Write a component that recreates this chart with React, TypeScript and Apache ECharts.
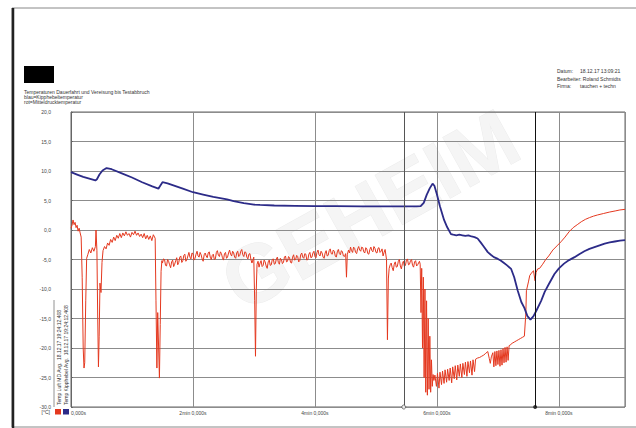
import React, { useEffect, useRef } from "react";
import * as echarts from "echarts";

// Blue: Kipphebeltemperatur [time s, °C]
const bluePoints: [number, number][] = [
  [0, 9.8], [6, 9.4], [12, 9.0], [18, 8.7], [24, 8.4], [25.5, 8.6], [28, 9.4], [31, 10.1], [35, 10.5],
  [40, 10.3], [50, 9.6], [60, 8.9], [70, 8.1], [80, 7.4], [86, 7.0], [87, 7.3], [90, 8.1], [95, 7.9],
  [100, 7.6], [110, 7.0], [120, 6.4], [130, 6.0], [140, 5.6], [153.5, 5.2], [160, 4.9], [170, 4.55],
  [180, 4.3], [186, 4.25], [200, 4.15], [220, 4.1], [240, 4.05], [260, 4.05], [285, 4.0], [300, 4.0],
  [320, 4.0], [340, 4.0], [344, 4.05], [347, 4.6], [350, 6.0], [353, 7.1], [355.7, 7.85], [357.5, 7.5],
  [360, 6.0], [363, 4.0], [367, 1.7], [370, 0.5], [373.8, -0.7], [376, -0.8], [379, -0.9], [382, -0.8],
  [385, -0.9], [388, -1.0], [391, -0.9], [394, -1.1], [397, -1.2], [400, -1.45], [403, -2.1], [406, -2.8],
  [410, -3.75], [413, -4.2], [416, -4.6], [420, -4.9], [423, -5.2], [426, -5.6], [429, -6.0], [433, -6.6],
  [436, -8.0], [439.5, -10.3], [443, -12.2], [446, -13.2], [449, -14.6], [452, -15.2], [455, -14.6],
  [458, -13.6], [462.5, -12.0], [466, -10.5], [470, -9.2], [475.6, -7.45], [480, -6.5], [485, -5.7],
  [490, -5.1], [495.4, -4.6], [500, -4.1], [505, -3.6], [510, -3.2], [515, -2.9], [520, -2.6],
  [525, -2.3], [530, -2.1], [535, -1.95], [540, -1.8], [545, -1.7],
];

// Red: Mitteldrucktemperatur [time s, °C]
const redStart: [number, number][] = [
  [0, 0.3], [1, 0.8], [2, 1.7], [3, 0.9], [4, 1.3], [5, 0.4], [6, 0.8], [7, -0.2], [8, 0.3], [9, -0.5],
  [10, -1.2], [11, -8], [12, -20], [12.8, -23.4], [13.5, -22.5], [14.5, -12], [15.4, -4.8], [16.5, -4.2],
  [18, -3.3], [19.5, -3.9], [21, -3.0], [22.5, -3.6], [24, -2.8], [24.6, 0.0], [25.5, -3.5], [26.3, -15],
  [27, -23.2], [27.7, -18], [28.5, -9], [29.5, -10.6], [30.5, -5.5], [31.5, -3.5], [33, -2.8], [34.5, -3.2],
  [36, -2.2], [37.5, -2.6], [39, -1.6], [40.5, -2.1], [42, -1.2], [43.5, -1.8], [45, -0.9], [46.5, -1.4],
  [48, -0.6], [49.5, -1.3], [51, -0.5], [52.5, -1.0], [54, -0.3], [55.5, -0.9], [57, -0.6], [58.5, -1.2],
  [60, -0.4], [61.5, -0.8], [63, -0.2], [64.5, -0.9], [66, -0.5], [67.5, -1.1], [69, -0.7], [70.5, -1.3],
  [72, -0.6], [73.5, -1.5], [75, -0.9], [76.5, -1.6], [78, -1.0], [79.5, -1.8], [81, -0.8], [82.8, -1.4],
  [83.6, -12], [84.5, -23.4], [85.3, -14], [86.2, -20], [87, -25.1], [87.8, -16], [88.6, -7], [89.4, -5.2],
];
const redMiddle: [number, number][] = [
  [90, -5.6], [91, -4.9], [92, -5.0], [93, -6.0], [94, -6.1], [95, -5.0], [96, -5.3], [97, -5.9], [98, -6.4],
  [99, -5.4], [100, -5.1], [101, -6.2], [102, -5.8], [103, -5.2], [104, -4.7], [105, -5.9], [106, -5.5],
  [107, -4.6], [108, -4.4], [109, -5.5], [110, -5.2], [111, -4.3], [112, -4.1], [113, -5.3], [114, -5.0],
  [115, -4.4], [116, -3.8], [117, -4.6], [118, -4.9], [119, -3.9], [120, -4.0], [121, -5.1], [122, -4.8],
  [123, -4.1], [124, -3.6], [125, -4.4], [126, -4.6], [127, -3.8], [128, -4.2], [129, -4.9], [130, -5.3],
  [131, -4.2], [132, -3.9], [133, -4.4], [134, -4.7], [135, -3.9], [136, -3.7], [137, -4.6], [138, -5.0],
  [139, -4.3], [140, -4.1], [141, -5.0], [142, -4.9], [143, -3.8], [144, -3.5], [145, -4.3], [146, -4.5],
  [147, -3.7], [148, -4.0], [149, -4.7], [150, -5.1], [151, -4.0], [152, -3.8], [153, -4.8], [154, -4.6],
  [155, -3.9], [156, -3.4], [157, -4.1], [158, -4.4], [159, -3.6], [160, -3.9], [161, -4.6], [162, -4.8],
  [163, -3.9], [164, -3.6], [165, -4.5], [166, -4.3], [167, -3.6], [168, -3.3], [169, -4.2], [170, -4.5],
  [171, -3.7], [172, -3.8], [173, -4.6], [174, -4.9], [175, -4.1], [176, -4.0], [177, -5.0], [178, -5.6],
  [179.8, -4.6], [180.7, -12], [181.5, -21.4], [182.3, -10], [183, -5.8], [184, -5.3], [185, -6.3],
  [186, -5.6], [187, -5.2], [188, -6.2], [189, -6.0], [190, -5.1], [191, -5.4], [192, -6.1], [193, -6.5],
  [194, -5.4], [195, -5.1], [196, -6.0], [197, -5.9], [198, -5.0], [199, -4.9], [200, -5.8], [201, -5.7],
  [202, -4.9], [203, -4.6], [204, -5.5], [205, -5.8], [206, -4.8], [207, -5.0], [208, -5.7], [209, -5.5],
  [210, -4.6], [211, -4.4], [212, -5.4], [213, -5.3], [214, -4.5], [215, -4.7], [216, -5.5], [217, -5.6],
  [218, -4.6], [219, -4.2], [220, -5.1], [221, -5.0], [222, -4.3], [223, -4.5], [224, -5.4], [225, -5.2],
  [226, -4.2], [227, -3.9], [228, -4.6], [229, -4.8], [230, -4.0], [231, -4.1], [232, -5.1], [233, -5.0],
  [234, -4.1], [235, -3.8], [236, -4.7], [237, -4.6], [238, -3.9], [239, -3.6], [240, -4.5], [241, -4.7],
  [242, -3.8], [243, -3.4], [244, -4.2], [245, -4.4], [246, -3.6], [247, -3.9], [248, -4.6], [249, -4.8],
  [250, -3.9], [251, -3.5], [252, -4.4], [253, -4.3], [254, -3.5], [255, -3.2], [256, -4.0], [257, -4.1],
  [258, -3.4], [259, -3.6], [260, -4.4], [261, -4.6], [262, -3.7], [263, -3.3], [264, -4.0], [265, -4.2],
  [266, -3.5], [267, -3.7], [268, -4.4], [269, -4.5], [270.2, -4.0], [271, -8.0], [271.8, -4.2], [273, -3.4],
  [274, -3.9], [275, -2.9], [276, -3.5], [277, -3.8], [278, -2.9], [279, -3.1], [280, -3.8], [281, -4.0],
  [282, -3.2], [283, -2.8], [284, -3.4], [285, -3.6], [286, -2.9], [287, -3.0], [288, -3.7], [289, -3.9],
  [290, -3.0], [291, -3.2], [292, -4.0], [293, -4.1], [294, -3.3], [295, -2.9], [296, -3.5], [297, -3.7],
  [298, -2.8], [299, -3.1], [300, -3.8], [301, -3.9], [302, -3.1], [303, -3.0], [304, -3.8], [305, -3.6],
  [306, -3.2], [307, -4.4], [308, -3.8], [309, -3.3], [310.4, -5.0], [311.3, -18.6],
  [312.2, -8.3], [313, -6.5], [314, -5.9], [315, -5.6], [316, -6.4], [317, -6.9], [318, -5.8], [319, -5.4],
  [320, -6.3], [321, -6.2], [322, -5.3], [323, -5.0], [324, -6.1], [325, -6.6], [326, -5.7], [327, -5.3],
  [328, -6.2], [329, -6.0], [330, -5.1], [331, -4.9], [332, -5.9], [333, -5.8], [334, -5.2], [335, -5.0],
  [336, -6.0], [337, -6.3], [338, -5.4], [339, -5.2], [340, -6.1], [341, -5.9], [342.8, -5.3],
];
const redEnd: [number, number][] = [
  [343.5, -5.8], [344.3, -14], [345, -6.5], [345.8, -20], [346.6, -8], [347.4, -25], [348.2, -10],
  [349, -27.5], [349.8, -12], [350.6, -28], [351.4, -15], [352.2, -27], [353, -18], [353.8, -27.5],
  [354.6, -22], [355.4, -26.5], [356.2, -24.5], [357, -25.5], [358, -24.6], [359.5, -26.5], [360.5, -24.3],
  [362, -26.8], [363, -24.1], [364.5, -26.2], [365.5, -23.9], [367, -26.0], [368, -23.7], [369.5, -25.8],
  [370.5, -23.6], [372, -25.5], [373, -23.4], [374.5, -25.9], [375.5, -23.2], [377, -25.2], [378, -23.0],
  [379.5, -25.4], [380.5, -22.9], [382, -24.8], [383, -22.7], [384.5, -25.0], [385.5, -22.6], [387, -24.5],
  [388, -22.4], [389.5, -24.8], [390.5, -22.3], [392, -24.2], [393, -22.2], [394.5, -24.6], [395.5, -22.0],
  [397, -24.0], [398, -21.9], [400, -21.7], [402, -21.6], [404, -21.4], [406, -21.2], [408, -20.9],
  [410, -20.6], [411.5, -21.8], [412.5, -22.6], [413.5, -21.5], [415, -20.8], [416, -23.2], [417, -20.6],
  [418, -23.0], [419, -20.5], [420, -22.8], [421, -20.4], [422, -23.1], [423, -20.3], [424, -22.9],
  [425, -20.1], [426, -22.5], [427, -19.9], [428, -22.4], [429, -19.8], [430, -22.1], [431, -19.6],
  [432, -19.5], [434, -19.2], [436, -19.0], [438, -18.8], [440, -18.6], [442, -18.4], [444, -18.2],
  [446, -18.0], [447.5, -14], [448, -10.3], [450, -8.8], [451.3, -7.7], [453, -7.3], [455, -6.9],
  [456.5, -8.6], [457.5, -7.2], [459, -6.6], [461, -6.5], [464, -5.8], [467, -5.0], [470, -4.4],
  [474, -3.4], [478, -2.7], [482, -2.0], [486, -1.2], [490, -0.3], [494, 0.4], [498, 0.9], [502, 1.4],
  [506, 1.8], [510, 2.1], [514, 2.35], [518, 2.55], [524, 2.8], [530, 3.05], [536, 3.25], [540, 3.4],
  [545, 3.5],
];
const redPoints = [...redStart, ...redMiddle, ...redEnd];

const cursorTimes = [327.4, 456.6];
const xMin = 0;
const xMax = 545;
const xInterval = 120;
const yMin = -30;
const yMax = 20;
const yInterval = 5;

const headerLeft = [
  "Temperaturen Dauerfahrt und Vereisung bis Testabbruch",
  "blau=Kipphebeltemperatur",
  "rot=Mitteldrucktemperatur",
];
const headerRightLabels = ["Datum:", "Bearbeiter:", "Firma:"];
const headerRightValues = ["18.12.17 13:09:21", "Roland Schmidts", "tauchen + techn"];
const legendTexts = [
  "Temp Luft MD Avg.  18.12.17 19:24:12.408",
  "Temp Kipphebel Avg.  18.12.17 19:24:12.408",
];
const unitText = "[°C]";
const watermark = "GEHEIM";

const FONT = "Liberation Sans, Arial, sans-serif";
const RED = "#e4381f";
const BLUE = "#2c2b88";

export default function App() {
  const ref = useRef<HTMLDivElement>(null);
  useEffect(() => {
    if (!ref.current) return;
    const chart = echarts.init(ref.current, undefined, { renderer: "svg" });
    const rowY = [71, 78.5, 86];
    const graphics: any[] = [
      {
        type: "text", x: 370, y: 210, rotation: (29 * Math.PI) / 180, z: -10,
        style: { text: watermark, fontSize: 82, fontWeight: "bold", fontFamily: FONT, fill: "#f5f5f5", stroke: "#ececec", lineWidth: 1, align: "center", verticalAlign: "middle" },
      },
      { type: "rect", shape: { x: 12, y: 8, width: 640, height: 419 }, style: { fill: "none", stroke: "#888", lineWidth: 1 } },
      { type: "line", shape: { x1: 13, y1: 8, x2: 13, y2: 428 }, style: { stroke: "#222", lineWidth: 2.5 } },
      { type: "rect", shape: { x: 24, y: 66, width: 30, height: 17 }, style: { fill: "#000" } },
      ...headerLeft.map((t, i) => ({
        type: "text", x: 24, y: 92 + i * 4.8,
        style: { text: t, fontSize: 5, fontFamily: FONT, fill: "#333", align: "left", verticalAlign: "middle" },
      })),
      ...headerRightLabels.map((t, i) => ({
        type: "text", x: 557, y: rowY[i],
        style: { text: i === 1 ? `${t} ${headerRightValues[i]}` : t, fontSize: 5, fontFamily: FONT, fill: "#333", align: "left", verticalAlign: "middle" },
      })),
      ...headerRightValues.map((t, i) => i === 1 ? null : ({
        type: "text", x: 580, y: rowY[i],
        style: { text: t, fontSize: 5, fontFamily: FONT, fill: "#333", align: "left", verticalAlign: "middle" },
      })).filter(Boolean),
      ...legendTexts.map((t, i) => ({
        type: "text", x: 59 + i * 7, y: 405, rotation: Math.PI / 2,
        style: { text: t, fontSize: 5, fontFamily: FONT, fill: "#333", align: "left", verticalAlign: "middle" },
      })),
      { type: "line", shape: { x1: 54, y1: 300, x2: 54, y2: 407 }, style: { stroke: "#777", lineWidth: 0.8 } },
      { type: "text", x: 50, y: 412, style: { text: unitText, fontSize: 5, fontFamily: FONT, fill: "#333", align: "right", verticalAlign: "middle" } },
      { type: "rect", shape: { x: 55, y: 409, width: 6, height: 5.5 }, style: { fill: RED } },
      { type: "rect", shape: { x: 63, y: 409, width: 6, height: 5.5 }, style: { fill: BLUE } },
    ];
    chart.setOption({
      animation: false,
      backgroundColor: "#fff",
      textStyle: { fontFamily: FONT },
      grid: { left: 71, right: 11, top: 112, bottom: 21, show: true, borderColor: "#666", borderWidth: 1, backgroundColor: "transparent" },
      graphic: graphics,
      xAxis: {
        type: "value", min: xMin, max: xMax, interval: xInterval,
        axisLine: { show: false }, axisTick: { show: false },
        splitLine: { show: true, lineStyle: { color: "#8c8c8c", width: 1 } },
        axisLabel: {
          fontSize: 5, color: "#444", margin: 3, alignMinLabel: "left", showMaxLabel: false,
          formatter: (v: number) => (v === 0 ? "0,000s" : v % 120 === 0 ? `${v / 60}min 0,000s` : ""),
        },
      },
      yAxis: {
        type: "value", min: yMin, max: yMax, interval: yInterval, offset: 18,
        axisLine: { show: true, lineStyle: { color: "#666", width: 1 } },
        axisTick: { show: true, inside: true, length: 2, lineStyle: { color: "#666" } },
        axisLabel: { fontSize: 5, color: "#444", margin: 2, formatter: (v: number) => v.toFixed(1).replace(".", ",") },
        splitLine: { show: true, lineStyle: { color: "#8c8c8c", width: 1 } },
      },
      series: [
        {
          type: "line", name: "rot", data: redPoints, showSymbol: false, z: 3,
          lineStyle: { color: RED, width: 1 }, itemStyle: { color: RED },
          markLine: {
            silent: true, symbol: ["none", "none"], label: { show: false },
            data: cursorTimes.map((t, i) => ({ xAxis: t, lineStyle: { color: i === 0 ? "#555" : "#111", width: 1, type: "solid" } })),
          },
        },
        {
          type: "line", name: "blau", data: bluePoints, showSymbol: false, z: 4,
          lineStyle: { color: BLUE, width: 1.8 }, itemStyle: { color: BLUE },
        },
        {
          type: "scatter", clip: false, z: 5, symbolSize: 4,
          data: cursorTimes.map((t, i) => ({
            value: [t, yMin],
            itemStyle: i === 0 ? { color: "#fff", borderColor: "#555", borderWidth: 1 } : { color: "#111" },
          })),
        },
      ],
    });
    return () => chart.dispose();
  }, []);
  return <div ref={ref} style={{ position: "absolute", left: 0, top: 0, width: 636, height: 428 }} />;
}
